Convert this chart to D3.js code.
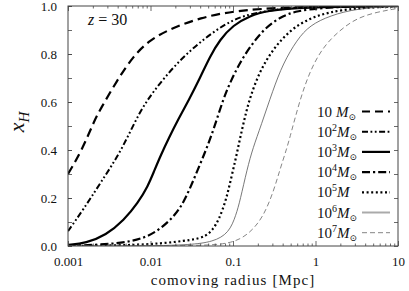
<!DOCTYPE html>
<html><head><meta charset="utf-8">
<script src="https://cdn.jsdelivr.net/npm/d3@7"></script>
<style>
body{margin:0;background:#fff}
svg text{font-family:'Liberation Serif','DejaVu Serif','Times New Roman',serif;fill:#111}
</style></head><body><svg id="c" width="409" height="291"></svg>
<script>
// ---- data (comoving radius in Mpc, neutral fraction x_H) ----
const r1e1 = [0.001, 0.00148, 0.00207, 0.00244, 0.00393, 0.00614, 0.00986, 0.0188, 0.0398, 0.1, 0.491, 10];
const xH1e1 = [0.30, 0.40, 0.52, 0.567, 0.69, 0.79, 0.86, 0.91, 0.95, 0.98, 0.997, 1.0];
const r1e2 = [0.001, 0.00152, 0.00244, 0.00452, 0.00746, 0.0130, 0.0228, 0.0398, 0.0822, 0.161, 0.491, 1.5, 10];
const xH1e2 = [0.062, 0.15, 0.26, 0.40, 0.567, 0.68, 0.775, 0.85, 0.93, 0.97, 0.993, 0.999, 1.0];
const r1e3 = [0.001, 0.00165, 0.00289, 0.00478, 0.00705, 0.00933, 0.0110, 0.0134, 0.0167, 0.0215, 0.0293, 0.0398, 0.0526, 0.0695, 0.1, 0.161, 0.258, 0.649, 10];
const xH1e3 = [0.005, 0.012, 0.045, 0.108, 0.18, 0.25, 0.31, 0.38, 0.45, 0.525, 0.61, 0.70, 0.79, 0.86, 0.92, 0.96, 0.98, 0.995, 1.0];
const r1e4 = [0.001, 0.00244, 0.00614, 0.0117, 0.0204, 0.0269, 0.0356, 0.0471, 0.0589, 0.0757, 0.0946, 0.122, 0.161, 0.231, 0.372, 0.597, 1.233, 3.46, 10];
const xH1e4 = [0.001, 0.005, 0.017, 0.054, 0.13, 0.20, 0.30, 0.40, 0.49, 0.61, 0.69, 0.765, 0.83, 0.90, 0.955, 0.98, 0.993, 0.999, 1.0];
const r1e5 = [0.001, 0.00565, 0.0130, 0.0327, 0.0471, 0.0573, 0.0676, 0.0822, 0.0946, 0.109, 0.122, 0.140, 0.161, 0.212, 0.305, 0.491, 0.857, 1.5, 2.85, 10];
const xH1e5 = [0.0, 0.003, 0.01, 0.025, 0.04, 0.07, 0.11, 0.19, 0.28, 0.37, 0.45, 0.54, 0.62, 0.73, 0.82, 0.90, 0.95, 0.975, 0.99, 1.0];
const r1e6 = [0.001, 0.00986, 0.0301, 0.0573, 0.0895, 0.109, 0.122, 0.148, 0.175, 0.218, 0.305, 0.404, 0.597, 0.857, 1.5, 3.18, 10];
const xH1e6 = [0.0, 0.0, 0.005, 0.017, 0.054, 0.13, 0.19, 0.32, 0.41, 0.5, 0.65, 0.76, 0.86, 0.92, 0.96, 0.99, 1.0];
const r1e7 = [0.001, 0.0398, 0.1, 0.161, 0.231, 0.305, 0.372, 0.452, 0.505, 0.649, 0.857, 1.233, 1.98, 3.18, 5.56, 10];
const xH1e7 = [0.0, 0.0, 0.01, 0.054, 0.12, 0.22, 0.32, 0.41, 0.47, 0.61, 0.73, 0.83, 0.90, 0.95, 0.975, 0.99];

const massExponents = [1, 2, 3, 4, 5, 6, 7];
const hasSun = [true, true, true, true, false, true, true];
const xTickValues = [0.001, 0.01, 0.1, 1, 10];
const xTickLabels = ["0.001", "0.01", "0.1", "1", "10"];
const yTickValues = [0, 0.2, 0.4, 0.6, 0.8, 1.0];
const yTickLabels = ["0.0", "0.2", "0.4", "0.6", "0.8", "1.0"];
const redshiftLabel = "30";
const xTitle = "comoving radius [Mpc]";

const seriesR = [r1e1, r1e2, r1e3, r1e4, r1e5, r1e6, r1e7];
const seriesX = [xH1e1, xH1e2, xH1e3, xH1e4, xH1e5, xH1e6, xH1e7];

// ---- styles ----
const FONT = "'Liberation Serif','DejaVu Serif','Times New Roman',serif";
const lineStyles = [
  {stroke: "#000", w: 2.2, dash: "9,5"},
  {stroke: "#000", w: 2.0, dash: "6,2.5,1.8,2.5,1.8,2.5"},
  {stroke: "#000", w: 2.2, dash: null},
  {stroke: "#000", w: 2.2, dash: "8,3,2.2,3"},
  {stroke: "#000", w: 2.2, dash: "2,2.6"},
  {stroke: "#555", w: 0.8, dash: null},
  {stroke: "#666", w: 0.8, dash: "5,3"}
];
const legendStyles = [
  {stroke: "#000", w: 2.2, dash: "8,5"},
  {stroke: "#000", w: 2.0, dash: "6,2.5,1.8,2.5,1.8,2.5"},
  {stroke: "#000", w: 2.2, dash: null},
  {stroke: "#000", w: 2.2, dash: "8,3,2.2,3"},
  {stroke: "#000", w: 2.2, dash: "2,2.6"},
  {stroke: "#aaa", w: 2.0, dash: null},
  {stroke: "#777", w: 0.9, dash: "5,3"}
];

const L = 68, R = 398, T = 6, B = 246;
const svg = d3.select("#c");
const x = d3.scaleLog().domain([0.001, 10]).range([L, R]);
const y = d3.scaleLinear().domain([0, 1]).range([B, T]);

svg.append("defs").append("clipPath").attr("id", "clip")
  .append("rect").attr("x", L).attr("y", T).attr("width", R - L).attr("height", B - T);

// curves
const line = d3.line().x(d => x(d[0])).y(d => y(d[1])).curve(d3.curveBasis);
const g = svg.append("g").attr("clip-path", "url(#clip)");
seriesR.forEach((rs, i) => {
  const pts = rs.map((r, j) => [r, seriesX[i][j]]);
  const s = lineStyles[i];
  g.append("path").attr("d", line(pts)).attr("fill", "none")
    .attr("stroke", s.stroke).attr("stroke-width", s.w)
    .attr("stroke-dasharray", s.dash);
});

// minor ticks
const minorX = [];
for (let e = -3; e < 1; e++) for (let k = 2; k <= 9; k++) minorX.push(k * Math.pow(10, e));
const yAll = d3.range(0, 11).map(i => i / 10);

function styleAxis(sel) {
  sel.attr("font-family", FONT).attr("font-size", 13);
  sel.select(".domain").remove();
  sel.selectAll("line").attr("stroke", "#444").attr("stroke-width", 0.8);
  sel.selectAll("text").attr("fill", "#111").style("font-family", FONT).style("font-size", "13px");
}
// bottom
svg.append("g").attr("transform", `translate(0,${B})`)
  .call(d3.axisBottom(x).tickValues(xTickValues).tickSize(-5).tickPadding(11)
    .tickFormat((d, i) => xTickLabels[i])).call(styleAxis);
svg.append("g").attr("transform", `translate(0,${B})`)
  .call(d3.axisBottom(x).tickValues(minorX).tickSize(-2.5).tickFormat("")).call(styleAxis);
// top
svg.append("g").attr("transform", `translate(0,${T})`)
  .call(d3.axisTop(x).tickValues(xTickValues).tickSize(-5).tickFormat("")).call(styleAxis);
svg.append("g").attr("transform", `translate(0,${T})`)
  .call(d3.axisTop(x).tickValues(minorX).tickSize(-2.5).tickFormat("")).call(styleAxis);
// left
svg.append("g").attr("transform", `translate(${L},0)`)
  .call(d3.axisLeft(y).tickValues(yTickValues).tickSize(-4).tickPadding(11)
    .tickFormat((d, i) => yTickLabels[i])).call(styleAxis);
svg.append("g").attr("transform", `translate(${L},0)`)
  .call(d3.axisLeft(y).tickValues(yAll).tickSize(-4).tickFormat("")).call(styleAxis);
// right
svg.append("g").attr("transform", `translate(${R},0)`)
  .call(d3.axisRight(y).tickValues(yAll).tickSize(-4).tickFormat("")).call(styleAxis);

// frame
svg.append("rect").attr("x", L).attr("y", T).attr("width", R - L).attr("height", B - T)
  .attr("fill", "none").attr("stroke", "#444").attr("stroke-width", 1);

// axis titles
svg.append("text").attr("x", (L + R) / 2).attr("y", 285).attr("text-anchor", "middle")
  .style("font-family", FONT).attr("font-size", 15).attr("letter-spacing", 1.1).text(xTitle);
const yl = svg.append("text").attr("transform", "translate(24,122) rotate(-90)")
  .style("font-family", FONT).attr("text-anchor", "middle").attr("font-size", 22);
yl.append("tspan").attr("font-style", "italic").text("x");
yl.append("tspan").attr("font-style", "italic").attr("font-size", 15).attr("dy", 5).text("H");

// redshift label
const zl = svg.append("text").attr("x", 88).attr("y", 25).style("font-family", FONT).attr("font-size", 16);
zl.append("tspan").attr("font-style", "italic").text("z");
zl.append("tspan").attr("dx", 4).text("=");
zl.append("tspan").attr("dx", 4).text(redshiftLabel);

// legend
massExponents.forEach((e, i) => {
  const ly = 111.5 + i * 20.2;
  const s = legendStyles[i];
  svg.append("line").attr("x1", 362).attr("x2", 390).attr("y1", ly).attr("y2", ly)
    .attr("stroke", s.stroke).attr("stroke-width", s.w).attr("stroke-dasharray", s.dash);
  const t = svg.append("text").attr("x", 317).attr("y", ly + 5).style("font-family", FONT).attr("font-size", 15);
  t.append("tspan").text("10");
  if (e === 1) {
    t.append("tspan").attr("dx", 4).attr("font-style", "italic").text("M");
  } else {
    t.append("tspan").attr("font-size", 10).attr("dy", -6).text(String(e));
    t.append("tspan").attr("font-style", "italic").attr("dy", 6).text("M");
  }
  if (hasSun[i]) t.append("tspan").attr("font-size", 9).attr("dy", 3).text("\u2299");
});
</script></body></html>
